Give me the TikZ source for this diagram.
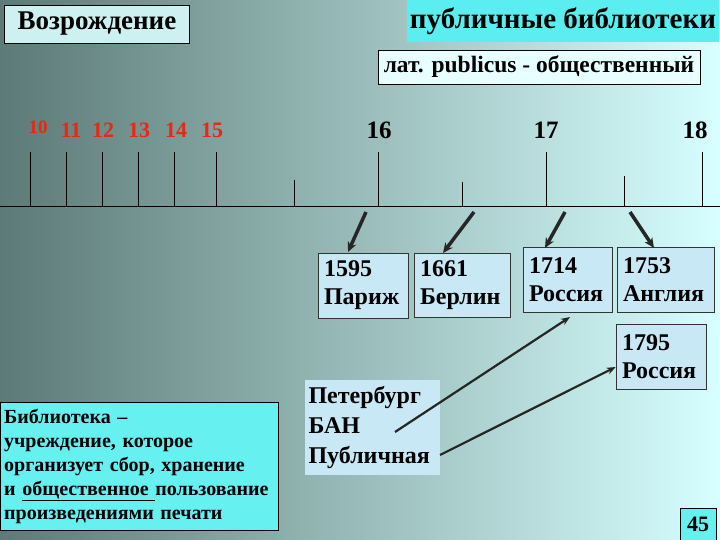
\documentclass[tikz,border=0pt]{standalone}
\usepackage{fontspec}
\setmainfont{Liberation Serif}[BoldFont={Liberation Serif Bold}]
\usetikzlibrary{arrows.meta}
\definecolor{boxblue}{RGB}{200,232,245}
\definecolor{cyanA}{RGB}{90,238,240}
\definecolor{cyanB}{RGB}{102,240,240}
\definecolor{redn}{RGB}{230,40,20}
\tikzset{
 yr/.style={draw=black!80,fill=boxblue,line width=0.6pt,inner sep=3pt,inner xsep=6pt,align=left,font=\bfseries\fontsize{24}{28}\selectfont},
 tick/.style={line width=0.8pt},
 big/.style={-{Stealth[length=10pt,width=9pt]},line width=3.5pt,black!85},
 thin/.style={-{Stealth[length=9pt,width=7pt]},line width=2.2pt,black!85},
 rn/.style={text=redn,font=\bfseries\fontsize{22}{22}\selectfont},
 bn/.style={font=\bfseries\fontsize{25}{26}\selectfont},
}
\begin{document}
\begin{tikzpicture}[x=1pt,y=-1pt]
\useasboundingbox (0,0) rectangle (720,540);
\shade[left color={rgb,255:red,92;green,122;blue,118},right color={rgb,255:red,215;green,255;blue,255}] (0,0) rectangle (720,540);
% headers
\node[draw,fill={rgb,255:red,205;green,240;blue,240},minimum width=185pt,minimum height=38pt,font=\bfseries\fontsize{27}{30}\selectfont] (ren) at (97,24) {Возрождение};
\node[fill=cyanA,minimum width=310pt,minimum height=42pt,font=\bfseries\fontsize{29}{30}\selectfont] (pub) at (563,21) {публичные библиотеки};
\node[draw,fill={rgb,255:red,232;green,255;blue,255},minimum width=322pt,minimum height=34pt,font=\bfseries\fontsize{23.5}{25}\selectfont] (lat) at (539,67) {лат. publicus - общественный};
% axis
\coordinate (a0) at (0,206); \coordinate (a1) at (720,206);
\draw[line width=0.8pt] (a0) -- (a1);
\foreach \x/\t in {30/152,66/152,102/152,138/152,174/152,216/152,294/180,378/152,462/182,546/152,624/176,702/152}{
  \draw[tick] (\x,\t) -- (\x,206);}
% numbers
\node[rn,font=\bfseries\fontsize{19}{20}\selectfont] (n10) at (38,127) {10};
\node[rn] (n11) at (71,130) {11};
\node[rn] (n12) at (103,130) {12};
\node[rn] (n13) at (139,130) {13};
\node[rn] (n14) at (176,130) {14};
\node[rn] (n15) at (212,130) {15};
\node[bn] (n16) at (379,130) {16};
\node[bn] (n17) at (546,130) {17};
\node[bn] (n18) at (695,130) {18};
% year boxes
\node[yr,minimum width=90pt,minimum height=65pt,text width=78pt] (b1595) at (363,285.5) {1595\\Париж};
\node[yr,minimum width=96pt,minimum height=64pt,text width=84pt] (b1661) at (462,285) {1661\\Берлин};
\node[yr,minimum width=89pt,minimum height=65pt,text width=77pt] (b1714) at (567.5,279.5) {1714\\Россия};
\node[yr,minimum width=97pt,minimum height=65pt,text width=85pt] (b1753) at (665.5,279.5) {1753\\Англия};
\node[yr,minimum width=90pt,minimum height=65pt,text width=78pt] (b1795) at (661,356.5) {1795\\Россия};
\node[fill=boxblue,draw=none,align=left,inner sep=4pt,text width=127pt,minimum height=95pt,font=\bfseries\fontsize{24}{30}\selectfont] (spb) at (372,427) {Петербург\\БАН\\Публичная};
% arrows from axis
\coordinate (t1) at (366,212); \coordinate (t2) at (474,212);
\coordinate (t3) at (565,212); \coordinate (t4) at (630,212);
\draw[big] (t1) -- (348,252);
\draw[big] (t2) -- (443,253);
\draw[big] (t3) -- (545,248);
\draw[big] (t4) -- (654,248);
\coordinate (s1) at (395,432); \coordinate (s2) at (440,455);
\draw[thin] (s1) -- (570,317);
\draw[thin] (s2) -- (b1795.west|-0,367);
% definition
\node[draw,fill=cyanB,minimum width=278pt,minimum height=128pt,align=left,anchor=north west,inner sep=4pt,font=\bfseries\fontsize{20}{24}\selectfont,text width=270pt] (def) at (0,402) {Библиотека –\\учреждение, которое\\организует сбор, хранение\\и \underline{общественное }пользование\\произведениями печати};
\node[draw,fill=cyanB,minimum width=36pt,minimum height=32pt,font=\bfseries\fontsize{22}{24}\selectfont] (pg) at (698,524) {45};
\end{tikzpicture}
\end{document}
